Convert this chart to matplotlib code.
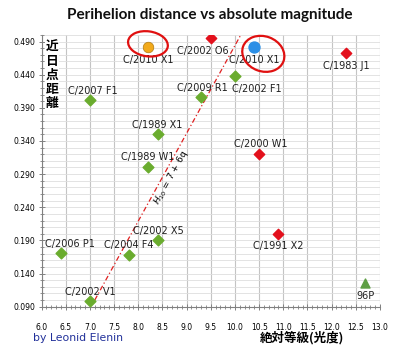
import matplotlib
matplotlib.use("Agg")
import matplotlib.pyplot as plt
from matplotlib.patches import Ellipse
from matplotlib.ticker import MultipleLocator, FormatStrFormatter
import matplotlib.transforms as mtransforms

# comet data: absolute magnitude H10, perihelion distance q (AU)
names = ['C/2010 X1', 'C/2010 X1', 'C/2002 O6', 'C/1983 J1', 'C/2002 F1',
         'C/2009 R1', 'C/2007 F1', 'C/1989 X1', 'C/1989 W1', 'C/2000 W1',
         'C/2002 X5', 'C/1991 X2', 'C/2006 P1', 'C/2004 F4', 'C/2002 V1', '96P']
mag = [8.2, 10.4, 9.5, 12.3, 10.0, 9.3, 7.0, 8.4, 8.2, 10.5,
       8.4, 10.9, 6.4, 7.8, 7.0, 12.7]
q = [0.482, 0.482, 0.495, 0.472, 0.438, 0.406, 0.402, 0.350, 0.301, 0.321,
     0.191, 0.199, 0.171, 0.168, 0.099, 0.125]
kind = ['orange', 'blue', 'red', 'red', 'green', 'green', 'green', 'green',
        'green', 'red', 'green', 'red', 'green', 'green', 'green', 'tri']

# label offsets in pixels (dx, dy)
offsets = [(0, -13), (0, -13), (-8, -13), (0, -13), (22, -13), (1, 9), (3, 9),
           (0, 9), (0, 10), (2, 10), (1, 9), (0, -12), (9, 9), (0, 10), (0, 9), (0, -13)]

# survival limit line
line_x = [7.1, 10.12]
line_y = [0.100, 0.500]

styles = {
    'green': dict(marker='D', s=30, color='#6aac2e'),
    'red': dict(marker='D', s=28, color='#e3101c'),
    'orange': dict(marker='o', s=58, color='#f2aa1c', edgecolors='#b07a10', linewidths=0.5),
    'blue': dict(marker='o', s=62, color='#2b8fe6'),
    'tri': dict(marker='^', s=42, color='#5e9e44'),
}

fig = plt.figure(figsize=(4.0, 3.46), dpi=100)
ax = fig.add_axes([0.104, 0.1136, 0.846, 0.7855])
ax.set_xlim(6.0, 13.0)
ax.set_ylim(0.09, 0.50)

ax.xaxis.set_major_locator(MultipleLocator(0.5))
ax.xaxis.set_minor_locator(MultipleLocator(0.1))
ax.yaxis.set_major_locator(MultipleLocator(0.05))
ax.yaxis.set_minor_locator(MultipleLocator(0.01))
ax.xaxis.set_major_formatter(FormatStrFormatter('%.1f'))
ax.yaxis.set_major_formatter(FormatStrFormatter('%.3f'))
ax.set_yticks([0.09 + 0.05 * i for i in range(9)])

ax.grid(True, axis='x', which='major', color='#c4c4c4', linewidth=0.8)
ax.grid(True, axis='y', which='minor', color='#dedede', linewidth=0.6)
ax.grid(True, axis='y', which='major', color='#dedede', linewidth=0.6)
ax.set_axisbelow(True)

for side in ['top', 'right']:
    ax.spines[side].set_visible(False)
for side in ['left', 'bottom']:
    ax.spines[side].set_color('#808080')
    ax.spines[side].set_linewidth(0.8)
ax.tick_params(which='major', direction='inout', length=5, color='#808080', width=0.7,
               labelsize=5.5)
ax.tick_params(which='minor', direction='inout', length=3, color='#808080', width=0.6)
ax.tick_params(axis='x', which='major', pad=9)
ax.tick_params(axis='y', which='major', pad=2)

ax.plot(line_x, line_y, color='#e02020', linestyle=(0, (4, 2, 1, 2)), linewidth=0.9, zorder=2)
ax.text(8.68, 0.285, r'$H_{10}$ = 7 + 6q', rotation=61, fontsize=6.5,
        ha='center', va='center', rotation_mode='anchor')

for i in range(len(names)):
    ax.scatter(mag[i], q[i], zorder=3, **styles[kind[i]])
    ax.annotate(names[i], (mag[i], q[i]), xytext=offsets[i], textcoords='offset pixels',
                ha='center', va='center', fontsize=7, color='#202020', zorder=4)

# red ellipses around the two C/2010 X1 points
ell = [(0, (0, 3), 40, 25, -8), (1, (9, -7), 43, 35, -20)]
for idx, off, w, h, ang in ell:
    cx, cy = ax.transData.transform((mag[idx], q[idx]))
    e = Ellipse((cx + off[0], cy + off[1]), w, h, angle=ang, fill=False,
                edgecolor='#e01010', linewidth=1.6, transform=mtransforms.IdentityTransform(),
                zorder=5)
    fig.patches.append(e)
    e.set_figure(fig)

fig.text(0.525, 0.957, 'Perihelion distance vs absolute magnitude', ha='center', va='center',
         fontsize=11, fontweight='bold', color='#111111', family=['Lato', 'DejaVu Sans'])

fig.text(0.13, 0.782, '近\n日\n点\n距\n離', ha='center', va='center', fontsize=9.2,
         fontweight='bold', family=['Noto Sans CJK JP', 'DejaVu Sans'], linespacing=1.12,
         bbox=dict(facecolor='white', edgecolor='none', pad=0.5), zorder=6)

fig.text(0.755, 0.023, '絶対等級(光度)', ha='center', va='center', fontsize=9,
         fontweight='bold', family=['Noto Sans CJK JP', 'DejaVu Sans'])
fig.text(0.083, 0.023, 'by Leonid Elenin', ha='left', va='center', fontsize=7.8,
         color='#22319a')

fig.savefig('out.png', dpi=100)
